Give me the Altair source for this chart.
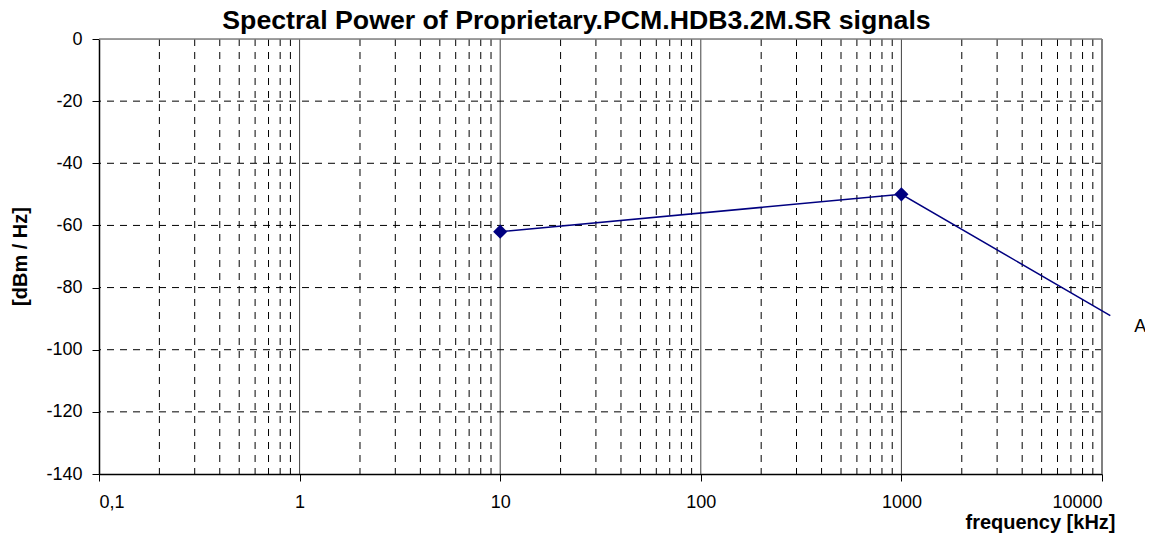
import altair as alt
import pandas as pd

# data
freq = [10, 1000, 11000]
power = [-62, -50, -89]
marker_freq = [10, 1000]
marker_power = [-62, -50]
series_label = "A"
x_ticks = [0.1, 1, 10, 100, 1000, 10000]
y_ticks = [0, -20, -40, -60, -80, -100, -120, -140]
major_x_grid = [1, 10, 100, 1000]
minor_x_grid = [m * d for d in [0.1, 1, 10, 100, 1000] for m in [2, 3, 4, 5, 6, 7, 8, 9]]
h_grid = [-20, -40, -60, -80, -100, -120]

FONT = "Liberation Sans"
W, H = 1003, 435

xs = alt.Scale(type="log", domain=[0.1, 10000], nice=False)
ys = alt.Scale(domain=[-140, 0], nice=False)

line_df = pd.DataFrame({"f": freq, "p": power})
mk_df = pd.DataFrame({"f": marker_freq, "p": marker_power})

minor = alt.Chart(pd.DataFrame({"f": minor_x_grid})).mark_rule(
    color="black", strokeWidth=1, strokeDash=[7, 6]
).encode(x=alt.X("f:Q", scale=xs))
major = alt.Chart(pd.DataFrame({"f": major_x_grid})).mark_rule(
    color="#404040", strokeWidth=1
).encode(x=alt.X("f:Q", scale=xs))
hg = alt.Chart(pd.DataFrame({"p": h_grid})).mark_rule(
    color="black", strokeWidth=1, strokeDash=[7, 6]
).encode(y=alt.Y("p:Q", scale=ys))
top_border = alt.Chart(pd.DataFrame({"p": [0]})).mark_rule(
    color="#808080", strokeWidth=1.5
).encode(y=alt.Y("p:Q", scale=ys))
right_border = alt.Chart(pd.DataFrame({"f": [10000]})).mark_rule(
    color="#808080", strokeWidth=2
).encode(x=alt.X("f:Q", scale=xs))

line = alt.Chart(line_df).mark_line(color="#000080", strokeWidth=1.5, clip=False).encode(
    x=alt.X(
        "f:Q", scale=xs,
        axis=alt.Axis(
            values=x_ticks, grid=False, domainColor="black", domainWidth=1.5,
            tickColor="black", tickSize=7, labelFontSize=18, labelFont=FONT,
            labelColor="black", labelPadding=12,
            labelExpr="datum.value < 1 ? '0,1' : datum.value + ''",
            title="frequency [kHz]", titleFont=FONT, titleFontSize=20,
            titleFontWeight="bold", titleColor="black", titleAnchor="end",
            titleAlign="right", titleX=1016, titleY=48, titleBaseline="middle",
        ),
    ),
    y=alt.Y(
        "p:Q", scale=ys,
        axis=alt.Axis(
            values=y_ticks, grid=False, domainColor="black", domainWidth=1.5,
            tickColor="black", tickSize=7, labelFontSize=18, labelFont=FONT,
            labelColor="black", labelPadding=10,
            labelExpr="datum.value + ''",
            title="[dBm / Hz]", titleFont=FONT, titleFontSize=20,
            titleFontWeight="bold", titleColor="black",
            titleX=-79, titleY=217, titleAlign="center", titleBaseline="middle",
            titleAngle=270,
        ),
    ),
)
pts = alt.Chart(mk_df).mark_point(
    shape="diamond", filled=True, size=200, color="#000080", opacity=1
).encode(x=alt.X("f:Q", scale=xs), y=alt.Y("p:Q", scale=ys))
lab = alt.Chart(pd.DataFrame({"f": [freq[-1]], "p": [power[-1]], "t": [series_label]})).mark_text(
    fontSize=18, font=FONT, color="black", dx=30, dy=11, clip=False
).encode(x=alt.X("f:Q", scale=xs), y=alt.Y("p:Q", scale=ys), text="t:N")

chart = alt.layer(minor, major, hg, top_border, right_border, line, pts, lab).properties(
    width=W, height=H,
    title=alt.TitleParams(
        "Spectral Power of Proprietary.PCM.HDB3.2M.SR signals",
        font=FONT, fontSize=26.7, fontWeight="bold", color="black",
        anchor="middle", dx=-24, dy=11, offset=6, frame="group",
    ),
    autosize=alt.AutoSizeParams(type="none"),
    padding={"left": 91, "top": 31, "right": 43, "bottom": 60},
).configure_view(stroke=None).configure(background="white")

chart.save("out.html", embed_options={"renderer": "svg", "actions": False})
